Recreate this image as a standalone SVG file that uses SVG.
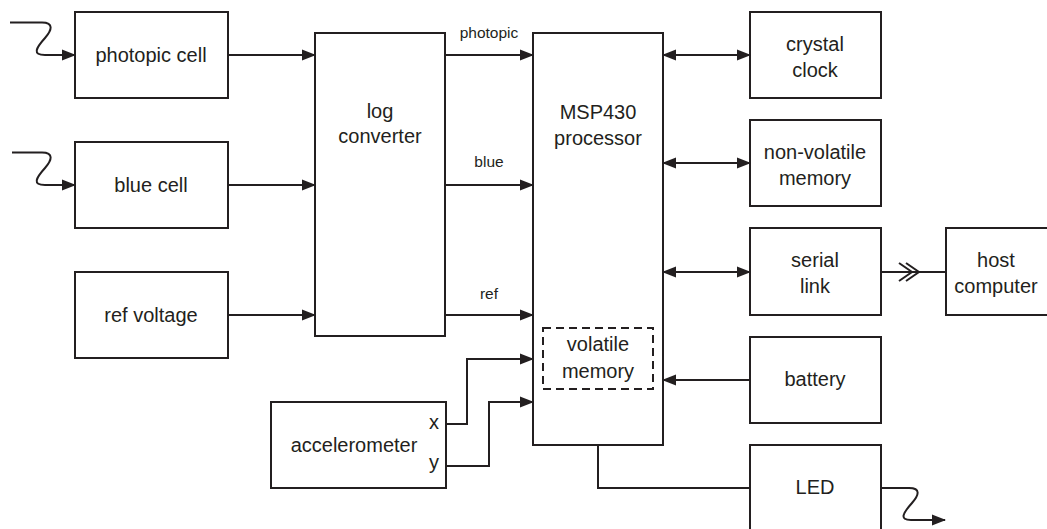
<svg xmlns="http://www.w3.org/2000/svg" width="1047" height="529" viewBox="0 0 1047 529">
<style>
.box{fill:#fff;stroke:#231f20;stroke-width:2}
.dash{fill:none;stroke:#231f20;stroke-width:2;stroke-dasharray:8,5}
.ln{fill:none;stroke:#231f20;stroke-width:2}
.t{font-family:"Liberation Sans",Arial,sans-serif;font-size:20px;fill:#231f20;text-anchor:middle}
.s{font-family:"Liberation Sans",Arial,sans-serif;font-size:15.5px;fill:#231f20;text-anchor:middle}
</style>
<defs>
<marker id="ah" markerUnits="userSpaceOnUse" markerWidth="14" markerHeight="12" refX="13" refY="6" orient="auto-start-reverse">
<path d="M0,0.5 L14,6 L0,11.5 Z" fill="#231f20"/>
</marker>
</defs>
<g id="photopic-cell"><rect class="box" x="75" y="12" width="153" height="86"/><text class="t" x="151" y="62">photopic cell</text></g>
<g id="blue-cell"><rect class="box" x="75" y="142" width="153" height="86"/><text class="t" x="151" y="192">blue cell</text></g>
<g id="ref-voltage"><rect class="box" x="75" y="272" width="153" height="86"/><text class="t" x="151" y="322">ref voltage</text></g>
<g id="log-converter"><rect class="box" x="315" y="33" width="130" height="303"/><text class="t" x="380" y="118">log</text><text class="t" x="380" y="143">converter</text></g>
<g id="msp430"><rect class="box" x="533" y="33" width="130" height="412"/><text class="t" x="598" y="119">MSP430</text><text class="t" x="598" y="145">processor</text></g>
<g id="volatile-memory"><rect class="dash" x="543" y="328" width="110" height="61"/><text class="t" x="598" y="351">volatile</text><text class="t" x="598" y="378">memory</text></g>
<g id="accelerometer"><rect class="box" x="271" y="402" width="175" height="86"/><text class="t" x="354" y="452">accelerometer</text><text class="t" x="434" y="429">x</text><text class="t" x="434" y="469">y</text></g>
<g id="crystal-clock"><rect class="box" x="750" y="12" width="131" height="86"/><text class="t" x="815" y="51">crystal</text><text class="t" x="815" y="77">clock</text></g>
<g id="non-volatile-memory"><rect class="box" x="750" y="120" width="131" height="86"/><text class="t" x="815" y="159">non-volatile</text><text class="t" x="815" y="185">memory</text></g>
<g id="serial-link"><rect class="box" x="750" y="228" width="131" height="87"/><text class="t" x="815" y="267">serial</text><text class="t" x="815" y="293">link</text></g>
<g id="host-computer"><rect class="box" x="946" y="228" width="104" height="87"/><text class="t" x="996" y="267">host</text><text class="t" x="996" y="293">computer</text></g>
<g id="battery"><rect class="box" x="750" y="337" width="131" height="86"/><text class="t" x="815" y="386">battery</text></g>
<g id="led"><rect class="box" x="750" y="445" width="131" height="90"/><text class="t" x="815" y="494">LED</text></g>
<g id="connectors">
<path class="ln" marker-end="url(#ah)" d="M10,22.5 H42 C54,22.5 52,30 45,38 C36,48 32,55 45,55 H75"/>
<path class="ln" marker-end="url(#ah)" d="M12,152.5 H42 C54,152.5 52,160 45,168 C36,178 32,185 45,185 H75"/>
<path class="ln" marker-end="url(#ah)" d="M228,55 H315"/>
<path class="ln" marker-end="url(#ah)" d="M228,185 H315"/>
<path class="ln" marker-end="url(#ah)" d="M228,315 H315"/>
<path class="ln" marker-end="url(#ah)" d="M445,55 H533"/>
<path class="ln" marker-end="url(#ah)" d="M445,185 H533"/>
<path class="ln" marker-end="url(#ah)" d="M445,315 H533"/>
<text class="s" x="489" y="38">photopic</text>
<text class="s" x="489" y="167">blue</text>
<text class="s" x="489" y="299">ref</text>
<path class="ln" marker-start="url(#ah)" marker-end="url(#ah)" d="M663,55 H750"/>
<path class="ln" marker-start="url(#ah)" marker-end="url(#ah)" d="M663,163 H750"/>
<path class="ln" marker-start="url(#ah)" marker-end="url(#ah)" d="M663,272 H750"/>
<path class="ln" marker-end="url(#ah)" d="M750,380 H663"/>
<path class="ln" d="M598,445 V488 H750"/>
<path class="ln" d="M881,272 H946"/>
<path class="ln" d="M899,263 L912,272 L899,281 M906,263 L919,272 L906,281"/>
<path class="ln" marker-end="url(#ah)" d="M446,424 H467 V359 H533"/>
<path class="ln" marker-end="url(#ah)" d="M446,466 H489 V402 H533"/>
<path class="ln" marker-end="url(#ah)" d="M881,488 H909 C921,488 919,495 912,503 C903,513 899,520 911,520 H945"/>
</g>
</svg>
